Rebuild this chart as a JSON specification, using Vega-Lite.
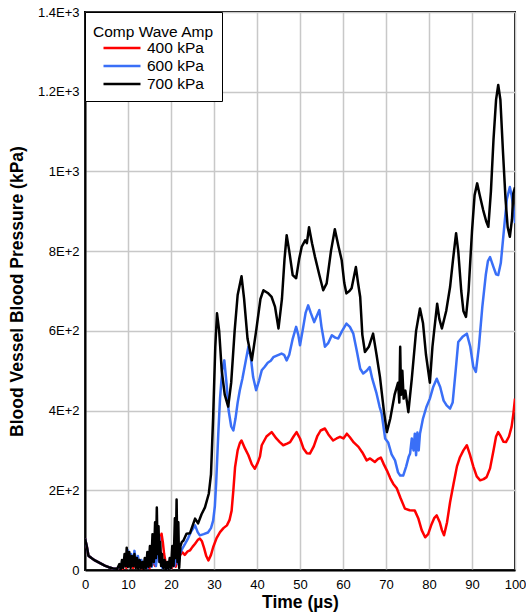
{
  "$schema": "https://vega.github.io/schema/vega-lite/v6.json",
  "width": 430,
  "height": 558,
  "autosize": {"type": "none"},
  "padding": {"left": 85, "top": 12, "right": 11, "bottom": 45},
  "config": {
    "font": "Liberation Sans",
    "view": {"stroke": "#000000", "strokeWidth": 2},
    "axis": {
      "gridColor": "#c8c8c8",
      "gridWidth": 1.5,
      "gridOpacity": 1,
      "ticks": false,
      "domainColor": "#000000",
      "domainWidth": 2,
      "labelColor": "#000000",
      "labelFont": "Liberation Sans",
      "labelFontSize": 13,
      "titleColor": "#000000",
      "titleFont": "Liberation Sans",
      "titleFontSize": 17.5,
      "titleFontWeight": "bold"
    },
    "legend": {
      "labelFont": "Liberation Sans",
      "titleFont": "Liberation Sans"
    }
  },
  "datasets": {
    "pressure": [
      {"t": 0, "v": 79, "s": "400 kPa"}, {"t": 0.4, "v": 60, "s": "400 kPa"}, {"t": 0.8, "v": 36, "s": "400 kPa"}, {"t": 1.5, "v": 30, "s": "400 kPa"}, {"t": 2.3, "v": 24, "s": "400 kPa"}, {"t": 3.5, "v": 17, "s": "400 kPa"}, {"t": 4.6, "v": 11, "s": "400 kPa"}, {"t": 5.5, "v": 7, "s": "400 kPa"}, {"t": 6.5, "v": 4, "s": "400 kPa"}, {"t": 7.5, "v": 3, "s": "400 kPa"}, {"t": 8.2, "v": 8, "s": "400 kPa"}, {"t": 8.7, "v": 3, "s": "400 kPa"}, {"t": 9.2, "v": 20, "s": "400 kPa"}, {"t": 9.6, "v": 5, "s": "400 kPa"}, {"t": 10.0, "v": 45, "s": "400 kPa"}, {"t": 10.4, "v": 10, "s": "400 kPa"}, {"t": 10.8, "v": 30, "s": "400 kPa"}, {"t": 11.2, "v": 5, "s": "400 kPa"}, {"t": 11.7, "v": 25, "s": "400 kPa"}, {"t": 12.2, "v": 5, "s": "400 kPa"}, {"t": 12.8, "v": 15, "s": "400 kPa"}, {"t": 13.4, "v": 3, "s": "400 kPa"}, {"t": 14, "v": 10, "s": "400 kPa"}, {"t": 15, "v": 5, "s": "400 kPa"}, {"t": 15.8, "v": 20, "s": "400 kPa"}, {"t": 16.3, "v": 10, "s": "400 kPa"}, {"t": 16.8, "v": 40, "s": "400 kPa"}, {"t": 17.2, "v": 60, "s": "400 kPa"}, {"t": 17.5, "v": 75, "s": "400 kPa"}, {"t": 17.8, "v": 91, "s": "400 kPa"}, {"t": 18.1, "v": 70, "s": "400 kPa"}, {"t": 18.4, "v": 40, "s": "400 kPa"}, {"t": 18.8, "v": 15, "s": "400 kPa"}, {"t": 19.2, "v": 5, "s": "400 kPa"}, {"t": 19.7, "v": 15, "s": "400 kPa"}, {"t": 20.2, "v": 5, "s": "400 kPa"}, {"t": 20.7, "v": 25, "s": "400 kPa"}, {"t": 21.1, "v": 8, "s": "400 kPa"}, {"t": 21.6, "v": 30, "s": "400 kPa"}, {"t": 22.1, "v": 37, "s": "400 kPa"}, {"t": 22.6, "v": 45, "s": "400 kPa"}, {"t": 23.2, "v": 38, "s": "400 kPa"}, {"t": 23.8, "v": 46, "s": "400 kPa"}, {"t": 24.4, "v": 49, "s": "400 kPa"}, {"t": 25.0, "v": 58, "s": "400 kPa"}, {"t": 25.6, "v": 66, "s": "400 kPa"}, {"t": 26.2, "v": 75, "s": "400 kPa"}, {"t": 26.7, "v": 79, "s": "400 kPa"}, {"t": 27.2, "v": 72, "s": "400 kPa"}, {"t": 27.7, "v": 55, "s": "400 kPa"}, {"t": 28.2, "v": 35, "s": "400 kPa"}, {"t": 28.7, "v": 24, "s": "400 kPa"}, {"t": 29.3, "v": 38, "s": "400 kPa"}, {"t": 29.8, "v": 57, "s": "400 kPa"}, {"t": 30.6, "v": 80, "s": "400 kPa"}, {"t": 31.4, "v": 95, "s": "400 kPa"}, {"t": 32.2, "v": 105, "s": "400 kPa"}, {"t": 33.0, "v": 112, "s": "400 kPa"}, {"t": 33.6, "v": 125, "s": "400 kPa"}, {"t": 34.1, "v": 149, "s": "400 kPa"}, {"t": 34.5, "v": 200, "s": "400 kPa"}, {"t": 34.9, "v": 258, "s": "400 kPa"}, {"t": 35.5, "v": 300, "s": "400 kPa"}, {"t": 36.0, "v": 318, "s": "400 kPa"}, {"t": 36.4, "v": 325, "s": "400 kPa"}, {"t": 37.2, "v": 305, "s": "400 kPa"}, {"t": 38.0, "v": 288, "s": "400 kPa"}, {"t": 38.8, "v": 265, "s": "400 kPa"}, {"t": 39.5, "v": 254, "s": "400 kPa"}, {"t": 40.2, "v": 270, "s": "400 kPa"}, {"t": 40.7, "v": 285, "s": "400 kPa"}, {"t": 41.1, "v": 313, "s": "400 kPa"}, {"t": 42.2, "v": 335, "s": "400 kPa"}, {"t": 43.4, "v": 346, "s": "400 kPa"}, {"t": 44.5, "v": 330, "s": "400 kPa"}, {"t": 45.3, "v": 321, "s": "400 kPa"}, {"t": 46.1, "v": 313, "s": "400 kPa"}, {"t": 47.0, "v": 317, "s": "400 kPa"}, {"t": 47.7, "v": 321, "s": "400 kPa"}, {"t": 48.5, "v": 335, "s": "400 kPa"}, {"t": 49.2, "v": 346, "s": "400 kPa"}, {"t": 50.0, "v": 330, "s": "400 kPa"}, {"t": 50.8, "v": 305, "s": "400 kPa"}, {"t": 51.6, "v": 293, "s": "400 kPa"}, {"t": 52.3, "v": 292, "s": "400 kPa"}, {"t": 53.2, "v": 310, "s": "400 kPa"}, {"t": 54.0, "v": 335, "s": "400 kPa"}, {"t": 54.8, "v": 350, "s": "400 kPa"}, {"t": 55.8, "v": 355, "s": "400 kPa"}, {"t": 56.6, "v": 340, "s": "400 kPa"}, {"t": 57.7, "v": 325, "s": "400 kPa"}, {"t": 58.5, "v": 330, "s": "400 kPa"}, {"t": 59.3, "v": 334, "s": "400 kPa"}, {"t": 60.1, "v": 330, "s": "400 kPa"}, {"t": 60.9, "v": 342, "s": "400 kPa"}, {"t": 61.6, "v": 333, "s": "400 kPa"}, {"t": 62.5, "v": 320, "s": "400 kPa"}, {"t": 63.6, "v": 309, "s": "400 kPa"}, {"t": 64.5, "v": 295, "s": "400 kPa"}, {"t": 65.5, "v": 275, "s": "400 kPa"}, {"t": 66.3, "v": 280, "s": "400 kPa"}, {"t": 67.4, "v": 271, "s": "400 kPa"}, {"t": 68.1, "v": 278, "s": "400 kPa"}, {"t": 68.8, "v": 282, "s": "400 kPa"}, {"t": 69.5, "v": 265, "s": "400 kPa"}, {"t": 70.2, "v": 250, "s": "400 kPa"}, {"t": 71.0, "v": 230, "s": "400 kPa"}, {"t": 71.7, "v": 216, "s": "400 kPa"}, {"t": 72.5, "v": 205, "s": "400 kPa"}, {"t": 73.4, "v": 180, "s": "400 kPa"}, {"t": 74.4, "v": 154, "s": "400 kPa"}, {"t": 75.5, "v": 150, "s": "400 kPa"}, {"t": 76.7, "v": 149, "s": "400 kPa"}, {"t": 77.5, "v": 130, "s": "400 kPa"}, {"t": 78.3, "v": 100, "s": "400 kPa"}, {"t": 79.1, "v": 82, "s": "400 kPa"}, {"t": 79.8, "v": 90, "s": "400 kPa"}, {"t": 80.6, "v": 115, "s": "400 kPa"}, {"t": 81.2, "v": 130, "s": "400 kPa"}, {"t": 81.8, "v": 137, "s": "400 kPa"}, {"t": 82.5, "v": 120, "s": "400 kPa"}, {"t": 83.0, "v": 100, "s": "400 kPa"}, {"t": 83.5, "v": 87, "s": "400 kPa"}, {"t": 84.2, "v": 120, "s": "400 kPa"}, {"t": 84.9, "v": 170, "s": "400 kPa"}, {"t": 85.7, "v": 216, "s": "400 kPa"}, {"t": 86.5, "v": 260, "s": "400 kPa"}, {"t": 87.2, "v": 283, "s": "400 kPa"}, {"t": 88.0, "v": 300, "s": "400 kPa"}, {"t": 88.8, "v": 313, "s": "400 kPa"}, {"t": 89.5, "v": 290, "s": "400 kPa"}, {"t": 90.3, "v": 260, "s": "400 kPa"}, {"t": 91.1, "v": 235, "s": "400 kPa"}, {"t": 91.9, "v": 225, "s": "400 kPa"}, {"t": 92.7, "v": 228, "s": "400 kPa"}, {"t": 93.4, "v": 233, "s": "400 kPa"}, {"t": 94.2, "v": 255, "s": "400 kPa"}, {"t": 95.0, "v": 300, "s": "400 kPa"}, {"t": 95.6, "v": 335, "s": "400 kPa"}, {"t": 96.1, "v": 346, "s": "400 kPa"}, {"t": 96.7, "v": 335, "s": "400 kPa"}, {"t": 97.3, "v": 322, "s": "400 kPa"}, {"t": 97.9, "v": 321, "s": "400 kPa"}, {"t": 98.6, "v": 335, "s": "400 kPa"}, {"t": 99.2, "v": 359, "s": "400 kPa"}, {"t": 99.6, "v": 390, "s": "400 kPa"}, {"t": 100, "v": 430, "s": "400 kPa"},

      {"t": 0, "v": 79, "s": "600 kPa"}, {"t": 0.4, "v": 60, "s": "600 kPa"}, {"t": 0.8, "v": 36, "s": "600 kPa"}, {"t": 1.5, "v": 30, "s": "600 kPa"}, {"t": 2.3, "v": 24, "s": "600 kPa"}, {"t": 3.5, "v": 17, "s": "600 kPa"}, {"t": 4.6, "v": 11, "s": "600 kPa"}, {"t": 5.5, "v": 7, "s": "600 kPa"}, {"t": 6.5, "v": 4, "s": "600 kPa"}, {"t": 7.5, "v": 3, "s": "600 kPa"}, {"t": 8.0, "v": 10, "s": "600 kPa"}, {"t": 8.5, "v": 5, "s": "600 kPa"}, {"t": 9.0, "v": 25, "s": "600 kPa"}, {"t": 9.5, "v": 10, "s": "600 kPa"}, {"t": 9.9, "v": 50, "s": "600 kPa"}, {"t": 10.3, "v": 15, "s": "600 kPa"}, {"t": 10.7, "v": 40, "s": "600 kPa"}, {"t": 11.1, "v": 12, "s": "600 kPa"}, {"t": 11.5, "v": 48, "s": "600 kPa"}, {"t": 11.9, "v": 15, "s": "600 kPa"}, {"t": 12.3, "v": 35, "s": "600 kPa"}, {"t": 12.7, "v": 8, "s": "600 kPa"}, {"t": 13.1, "v": 25, "s": "600 kPa"}, {"t": 13.5, "v": 5, "s": "600 kPa"}, {"t": 14, "v": 15, "s": "600 kPa"}, {"t": 14.5, "v": 5, "s": "600 kPa"}, {"t": 15, "v": 20, "s": "600 kPa"}, {"t": 15.5, "v": 8, "s": "600 kPa"}, {"t": 16, "v": 30, "s": "600 kPa"}, {"t": 16.5, "v": 10, "s": "600 kPa"}, {"t": 17.0, "v": 60, "s": "600 kPa"}, {"t": 17.3, "v": 82, "s": "600 kPa"}, {"t": 17.6, "v": 20, "s": "600 kPa"}, {"t": 18.0, "v": 5, "s": "600 kPa"}, {"t": 18.5, "v": 10, "s": "600 kPa"}, {"t": 19.0, "v": 3, "s": "600 kPa"}, {"t": 19.5, "v": 15, "s": "600 kPa"}, {"t": 20.0, "v": 5, "s": "600 kPa"}, {"t": 20.4, "v": 40, "s": "600 kPa"}, {"t": 20.8, "v": 10, "s": "600 kPa"}, {"t": 21.2, "v": 50, "s": "600 kPa"}, {"t": 21.6, "v": 15, "s": "600 kPa"}, {"t": 22.1, "v": 41, "s": "600 kPa"}, {"t": 22.7, "v": 55, "s": "600 kPa"}, {"t": 23.3, "v": 66, "s": "600 kPa"}, {"t": 24.0, "v": 80, "s": "600 kPa"}, {"t": 24.6, "v": 95, "s": "600 kPa"}, {"t": 25.6, "v": 112, "s": "600 kPa"}, {"t": 26.2, "v": 95, "s": "600 kPa"}, {"t": 26.7, "v": 87, "s": "600 kPa"}, {"t": 27.6, "v": 90, "s": "600 kPa"}, {"t": 28.6, "v": 94, "s": "600 kPa"}, {"t": 29.3, "v": 105, "s": "600 kPa"}, {"t": 29.8, "v": 124, "s": "600 kPa"}, {"t": 30.2, "v": 160, "s": "600 kPa"}, {"t": 30.5, "v": 217, "s": "600 kPa"}, {"t": 31.0, "v": 343, "s": "600 kPa"}, {"t": 31.4, "v": 430, "s": "600 kPa"}, {"t": 31.9, "v": 500, "s": "600 kPa"}, {"t": 32.4, "v": 526, "s": "600 kPa"}, {"t": 32.9, "v": 470, "s": "600 kPa"}, {"t": 33.4, "v": 400, "s": "600 kPa"}, {"t": 34.0, "v": 360, "s": "600 kPa"}, {"t": 34.5, "v": 350, "s": "600 kPa"}, {"t": 35.0, "v": 380, "s": "600 kPa"}, {"t": 35.5, "v": 420, "s": "600 kPa"}, {"t": 36.0, "v": 451, "s": "600 kPa"}, {"t": 36.6, "v": 480, "s": "600 kPa"}, {"t": 37.3, "v": 520, "s": "600 kPa"}, {"t": 38.0, "v": 560, "s": "600 kPa"}, {"t": 38.6, "v": 530, "s": "600 kPa"}, {"t": 39.1, "v": 484, "s": "600 kPa"}, {"t": 39.8, "v": 451, "s": "600 kPa"}, {"t": 40.5, "v": 476, "s": "600 kPa"}, {"t": 41.1, "v": 501, "s": "600 kPa"}, {"t": 41.8, "v": 510, "s": "600 kPa"}, {"t": 42.5, "v": 520, "s": "600 kPa"}, {"t": 43.2, "v": 525, "s": "600 kPa"}, {"t": 43.8, "v": 534, "s": "600 kPa"}, {"t": 44.6, "v": 538, "s": "600 kPa"}, {"t": 45.7, "v": 543, "s": "600 kPa"}, {"t": 46.3, "v": 540, "s": "600 kPa"}, {"t": 46.9, "v": 526, "s": "600 kPa"}, {"t": 47.5, "v": 540, "s": "600 kPa"}, {"t": 48.3, "v": 580, "s": "600 kPa"}, {"t": 49.1, "v": 610, "s": "600 kPa"}, {"t": 49.6, "v": 590, "s": "600 kPa"}, {"t": 50.0, "v": 564, "s": "600 kPa"}, {"t": 50.6, "v": 600, "s": "600 kPa"}, {"t": 51.3, "v": 645, "s": "600 kPa"}, {"t": 51.9, "v": 664, "s": "600 kPa"}, {"t": 52.5, "v": 645, "s": "600 kPa"}, {"t": 53.3, "v": 622, "s": "600 kPa"}, {"t": 54.0, "v": 640, "s": "600 kPa"}, {"t": 54.5, "v": 652, "s": "600 kPa"}, {"t": 55.0, "v": 610, "s": "600 kPa"}, {"t": 55.8, "v": 560, "s": "600 kPa"}, {"t": 56.6, "v": 570, "s": "600 kPa"}, {"t": 57.4, "v": 589, "s": "600 kPa"}, {"t": 58.2, "v": 583, "s": "600 kPa"}, {"t": 58.9, "v": 581, "s": "600 kPa"}, {"t": 59.8, "v": 600, "s": "600 kPa"}, {"t": 60.8, "v": 618, "s": "600 kPa"}, {"t": 61.6, "v": 610, "s": "600 kPa"}, {"t": 62.4, "v": 593, "s": "600 kPa"}, {"t": 63.2, "v": 550, "s": "600 kPa"}, {"t": 64.0, "v": 505, "s": "600 kPa"}, {"t": 64.7, "v": 493, "s": "600 kPa"}, {"t": 65.5, "v": 500, "s": "600 kPa"}, {"t": 66.2, "v": 509, "s": "600 kPa"}, {"t": 66.8, "v": 480, "s": "600 kPa"}, {"t": 67.8, "v": 443, "s": "600 kPa"}, {"t": 68.5, "v": 410, "s": "600 kPa"}, {"t": 69.0, "v": 392, "s": "600 kPa"}, {"t": 69.8, "v": 330, "s": "600 kPa"}, {"t": 70.5, "v": 320, "s": "600 kPa"}, {"t": 71.3, "v": 290, "s": "600 kPa"}, {"t": 72.1, "v": 275, "s": "600 kPa"}, {"t": 72.8, "v": 245, "s": "600 kPa"}, {"t": 73.3, "v": 237, "s": "600 kPa"}, {"t": 74.0, "v": 237, "s": "600 kPa"}, {"t": 74.7, "v": 260, "s": "600 kPa"}, {"t": 75.3, "v": 285, "s": "600 kPa"}, {"t": 75.6, "v": 292, "s": "600 kPa"}, {"t": 76.0, "v": 330, "s": "600 kPa"}, {"t": 76.4, "v": 300, "s": "600 kPa"}, {"t": 76.7, "v": 342, "s": "600 kPa"}, {"t": 77.0, "v": 288, "s": "600 kPa"}, {"t": 77.3, "v": 345, "s": "600 kPa"}, {"t": 77.6, "v": 300, "s": "600 kPa"}, {"t": 77.9, "v": 342, "s": "600 kPa"}, {"t": 78.6, "v": 380, "s": "600 kPa"}, {"t": 79.4, "v": 409, "s": "600 kPa"}, {"t": 80.2, "v": 430, "s": "600 kPa"}, {"t": 81.0, "v": 460, "s": "600 kPa"}, {"t": 81.8, "v": 480, "s": "600 kPa"}, {"t": 82.6, "v": 459, "s": "600 kPa"}, {"t": 83.4, "v": 425, "s": "600 kPa"}, {"t": 84.1, "v": 413, "s": "600 kPa"}, {"t": 84.9, "v": 405, "s": "600 kPa"}, {"t": 85.5, "v": 420, "s": "600 kPa"}, {"t": 86.2, "v": 500, "s": "600 kPa"}, {"t": 86.8, "v": 572, "s": "600 kPa"}, {"t": 87.8, "v": 585, "s": "600 kPa"}, {"t": 88.8, "v": 593, "s": "600 kPa"}, {"t": 89.6, "v": 560, "s": "600 kPa"}, {"t": 90.3, "v": 510, "s": "600 kPa"}, {"t": 90.9, "v": 497, "s": "600 kPa"}, {"t": 91.6, "v": 560, "s": "600 kPa"}, {"t": 92.4, "v": 660, "s": "600 kPa"}, {"t": 93.2, "v": 740, "s": "600 kPa"}, {"t": 93.7, "v": 775, "s": "600 kPa"}, {"t": 94.2, "v": 785, "s": "600 kPa"}, {"t": 95.0, "v": 760, "s": "600 kPa"}, {"t": 95.6, "v": 742, "s": "600 kPa"}, {"t": 96.1, "v": 740, "s": "600 kPa"}, {"t": 96.7, "v": 770, "s": "600 kPa"}, {"t": 97.4, "v": 850, "s": "600 kPa"}, {"t": 98.1, "v": 930, "s": "600 kPa"}, {"t": 98.8, "v": 961, "s": "600 kPa"}, {"t": 99.2, "v": 940, "s": "600 kPa"}, {"t": 99.6, "v": 911, "s": "600 kPa"}, {"t": 100, "v": 870, "s": "600 kPa"},

      {"t": 0, "v": 79, "s": "700 kPa"}, {"t": 0.4, "v": 60, "s": "700 kPa"}, {"t": 0.8, "v": 36, "s": "700 kPa"}, {"t": 1.5, "v": 30, "s": "700 kPa"}, {"t": 2.3, "v": 24, "s": "700 kPa"}, {"t": 3.5, "v": 17, "s": "700 kPa"}, {"t": 4.6, "v": 11, "s": "700 kPa"}, {"t": 5.5, "v": 7, "s": "700 kPa"}, {"t": 6.5, "v": 4, "s": "700 kPa"}, {"t": 7.5, "v": 3, "s": "700 kPa"}, {"t": 8.0, "v": 15, "s": "700 kPa"}, {"t": 8.3, "v": 2, "s": "700 kPa"}, {"t": 8.6, "v": 25, "s": "700 kPa"}, {"t": 8.9, "v": 5, "s": "700 kPa"}, {"t": 9.2, "v": 40, "s": "700 kPa"}, {"t": 9.5, "v": 10, "s": "700 kPa"}, {"t": 9.7, "v": 56, "s": "700 kPa"}, {"t": 10.0, "v": 8, "s": "700 kPa"}, {"t": 10.3, "v": 45, "s": "700 kPa"}, {"t": 10.6, "v": 5, "s": "700 kPa"}, {"t": 10.9, "v": 35, "s": "700 kPa"}, {"t": 11.2, "v": 10, "s": "700 kPa"}, {"t": 11.5, "v": 40, "s": "700 kPa"}, {"t": 11.8, "v": 5, "s": "700 kPa"}, {"t": 12.1, "v": 30, "s": "700 kPa"}, {"t": 12.4, "v": 3, "s": "700 kPa"}, {"t": 12.7, "v": 25, "s": "700 kPa"}, {"t": 13.0, "v": 5, "s": "700 kPa"}, {"t": 13.3, "v": 20, "s": "700 kPa"}, {"t": 13.6, "v": 2, "s": "700 kPa"}, {"t": 13.9, "v": 30, "s": "700 kPa"}, {"t": 14.2, "v": 5, "s": "700 kPa"}, {"t": 14.5, "v": 45, "s": "700 kPa"}, {"t": 14.8, "v": 8, "s": "700 kPa"}, {"t": 15.1, "v": 60, "s": "700 kPa"}, {"t": 15.4, "v": 10, "s": "700 kPa"}, {"t": 15.7, "v": 90, "s": "700 kPa"}, {"t": 16.0, "v": 20, "s": "700 kPa"}, {"t": 16.3, "v": 120, "s": "700 kPa"}, {"t": 16.5, "v": 30, "s": "700 kPa"}, {"t": 16.7, "v": 157, "s": "700 kPa"}, {"t": 16.9, "v": 40, "s": "700 kPa"}, {"t": 17.1, "v": 110, "s": "700 kPa"}, {"t": 17.3, "v": 20, "s": "700 kPa"}, {"t": 17.5, "v": 70, "s": "700 kPa"}, {"t": 17.7, "v": 10, "s": "700 kPa"}, {"t": 17.9, "v": 40, "s": "700 kPa"}, {"t": 18.2, "v": 5, "s": "700 kPa"}, {"t": 18.5, "v": 25, "s": "700 kPa"}, {"t": 18.8, "v": 2, "s": "700 kPa"}, {"t": 19.1, "v": 20, "s": "700 kPa"}, {"t": 19.4, "v": 3, "s": "700 kPa"}, {"t": 19.7, "v": 30, "s": "700 kPa"}, {"t": 20.0, "v": 5, "s": "700 kPa"}, {"t": 20.3, "v": 60, "s": "700 kPa"}, {"t": 20.6, "v": 10, "s": "700 kPa"}, {"t": 20.9, "v": 130, "s": "700 kPa"}, {"t": 21.1, "v": 30, "s": "700 kPa"}, {"t": 21.3, "v": 177, "s": "700 kPa"}, {"t": 21.5, "v": 20, "s": "700 kPa"}, {"t": 21.7, "v": 120, "s": "700 kPa"}, {"t": 21.9, "v": 5, "s": "700 kPa"}, {"t": 22.2, "v": 60, "s": "700 kPa"}, {"t": 22.5, "v": 70, "s": "700 kPa"}, {"t": 22.9, "v": 74, "s": "700 kPa"}, {"t": 23.6, "v": 91, "s": "700 kPa"}, {"t": 24.4, "v": 92, "s": "700 kPa"}, {"t": 25.6, "v": 129, "s": "700 kPa"}, {"t": 26.3, "v": 117, "s": "700 kPa"}, {"t": 27.1, "v": 140, "s": "700 kPa"}, {"t": 27.9, "v": 157, "s": "700 kPa"}, {"t": 28.8, "v": 192, "s": "700 kPa"}, {"t": 29.3, "v": 240, "s": "700 kPa"}, {"t": 29.8, "v": 383, "s": "700 kPa"}, {"t": 30.3, "v": 560, "s": "700 kPa"}, {"t": 30.7, "v": 644, "s": "700 kPa"}, {"t": 31.2, "v": 600, "s": "700 kPa"}, {"t": 31.8, "v": 500, "s": "700 kPa"}, {"t": 32.5, "v": 440, "s": "700 kPa"}, {"t": 33.3, "v": 410, "s": "700 kPa"}, {"t": 34.0, "v": 470, "s": "700 kPa"}, {"t": 34.8, "v": 600, "s": "700 kPa"}, {"t": 35.5, "v": 690, "s": "700 kPa"}, {"t": 36.4, "v": 737, "s": "700 kPa"}, {"t": 37.0, "v": 680, "s": "700 kPa"}, {"t": 37.8, "v": 580, "s": "700 kPa"}, {"t": 38.8, "v": 526, "s": "700 kPa"}, {"t": 39.8, "v": 600, "s": "700 kPa"}, {"t": 40.8, "v": 680, "s": "700 kPa"}, {"t": 41.5, "v": 702, "s": "700 kPa"}, {"t": 42.5, "v": 695, "s": "700 kPa"}, {"t": 43.4, "v": 685, "s": "700 kPa"}, {"t": 44.2, "v": 660, "s": "700 kPa"}, {"t": 45.0, "v": 606, "s": "700 kPa"}, {"t": 45.8, "v": 680, "s": "700 kPa"}, {"t": 46.4, "v": 780, "s": "700 kPa"}, {"t": 46.9, "v": 840, "s": "700 kPa"}, {"t": 47.5, "v": 800, "s": "700 kPa"}, {"t": 48.3, "v": 740, "s": "700 kPa"}, {"t": 49.1, "v": 732, "s": "700 kPa"}, {"t": 49.8, "v": 780, "s": "700 kPa"}, {"t": 50.4, "v": 811, "s": "700 kPa"}, {"t": 51.2, "v": 827, "s": "700 kPa"}, {"t": 51.6, "v": 820, "s": "700 kPa"}, {"t": 52.1, "v": 860, "s": "700 kPa"}, {"t": 52.8, "v": 820, "s": "700 kPa"}, {"t": 53.5, "v": 785, "s": "700 kPa"}, {"t": 54.5, "v": 740, "s": "700 kPa"}, {"t": 55.4, "v": 702, "s": "700 kPa"}, {"t": 56.2, "v": 719, "s": "700 kPa"}, {"t": 57.2, "v": 800, "s": "700 kPa"}, {"t": 58.1, "v": 855, "s": "700 kPa"}, {"t": 59.0, "v": 810, "s": "700 kPa"}, {"t": 59.7, "v": 777, "s": "700 kPa"}, {"t": 60.3, "v": 720, "s": "700 kPa"}, {"t": 60.8, "v": 694, "s": "700 kPa"}, {"t": 61.5, "v": 700, "s": "700 kPa"}, {"t": 62.0, "v": 707, "s": "700 kPa"}, {"t": 63.0, "v": 760, "s": "700 kPa"}, {"t": 63.5, "v": 720, "s": "700 kPa"}, {"t": 64.0, "v": 685, "s": "700 kPa"}, {"t": 64.5, "v": 590, "s": "700 kPa"}, {"t": 65.1, "v": 547, "s": "700 kPa"}, {"t": 66.0, "v": 560, "s": "700 kPa"}, {"t": 67.0, "v": 593, "s": "700 kPa"}, {"t": 67.8, "v": 540, "s": "700 kPa"}, {"t": 68.6, "v": 484, "s": "700 kPa"}, {"t": 69.5, "v": 400, "s": "700 kPa"}, {"t": 70.2, "v": 346, "s": "700 kPa"}, {"t": 71.0, "v": 380, "s": "700 kPa"}, {"t": 72.0, "v": 440, "s": "700 kPa"}, {"t": 72.8, "v": 470, "s": "700 kPa"}, {"t": 73.1, "v": 420, "s": "700 kPa"}, {"t": 73.3, "v": 560, "s": "700 kPa"}, {"t": 73.5, "v": 440, "s": "700 kPa"}, {"t": 73.8, "v": 500, "s": "700 kPa"}, {"t": 74.1, "v": 430, "s": "700 kPa"}, {"t": 74.5, "v": 450, "s": "700 kPa"}, {"t": 75.2, "v": 396, "s": "700 kPa"}, {"t": 76.0, "v": 480, "s": "700 kPa"}, {"t": 77.0, "v": 600, "s": "700 kPa"}, {"t": 77.9, "v": 656, "s": "700 kPa"}, {"t": 78.6, "v": 620, "s": "700 kPa"}, {"t": 79.3, "v": 540, "s": "700 kPa"}, {"t": 80.2, "v": 470, "s": "700 kPa"}, {"t": 80.8, "v": 560, "s": "700 kPa"}, {"t": 81.2, "v": 600, "s": "700 kPa"}, {"t": 81.9, "v": 668, "s": "700 kPa"}, {"t": 82.4, "v": 630, "s": "700 kPa"}, {"t": 83.0, "v": 606, "s": "700 kPa"}, {"t": 84.0, "v": 650, "s": "700 kPa"}, {"t": 84.9, "v": 710, "s": "700 kPa"}, {"t": 85.6, "v": 780, "s": "700 kPa"}, {"t": 86.3, "v": 845, "s": "700 kPa"}, {"t": 86.8, "v": 800, "s": "700 kPa"}, {"t": 87.5, "v": 700, "s": "700 kPa"}, {"t": 88.0, "v": 650, "s": "700 kPa"}, {"t": 88.6, "v": 635, "s": "700 kPa"}, {"t": 89.2, "v": 700, "s": "700 kPa"}, {"t": 90.0, "v": 850, "s": "700 kPa"}, {"t": 90.6, "v": 940, "s": "700 kPa"}, {"t": 91.2, "v": 970, "s": "700 kPa"}, {"t": 91.8, "v": 940, "s": "700 kPa"}, {"t": 92.6, "v": 903, "s": "700 kPa"}, {"t": 93.3, "v": 875, "s": "700 kPa"}, {"t": 93.8, "v": 861, "s": "700 kPa"}, {"t": 94.4, "v": 950, "s": "700 kPa"}, {"t": 95.0, "v": 1080, "s": "700 kPa"}, {"t": 95.6, "v": 1180, "s": "700 kPa"}, {"t": 96.1, "v": 1217, "s": "700 kPa"}, {"t": 96.6, "v": 1180, "s": "700 kPa"}, {"t": 97.2, "v": 1050, "s": "700 kPa"}, {"t": 97.8, "v": 930, "s": "700 kPa"}, {"t": 98.3, "v": 860, "s": "700 kPa"}, {"t": 98.8, "v": 836, "s": "700 kPa"}, {"t": 99.3, "v": 880, "s": "700 kPa"}, {"t": 99.6, "v": 945, "s": "700 kPa"}, {"t": 100, "v": 960, "s": "700 kPa"}
    ]
  },
  "data": {"name": "pressure"},
  "mark": {"type": "line", "strokeWidth": 2.5, "clip": true, "strokeJoin": "round"},
  "encoding": {
    "x": {
      "field": "t",
      "type": "quantitative",
      "scale": {"domain": [0, 100], "nice": false},
      "axis": {
        "title": "Time (µs)",
        "values": [0, 10, 20, 30, 40, 50, 60, 70, 80, 90, 100],
        "labelPadding": 8,
        "titlePadding": 2,
        "labelFlush": false
      }
    },
    "y": {
      "field": "v",
      "type": "quantitative",
      "scale": {"domain": [0, 1400], "nice": false},
      "axis": {
        "title": "Blood Vessel Blood Pressure (kPa)",
        "values": [0, 200, 400, 600, 800, 1000, 1200, 1400],
        "labelExpr": "datum.value == 0 ? '0' : datum.value == 200 ? '2E+2' : datum.value == 400 ? '4E+2' : datum.value == 600 ? '6E+2' : datum.value == 800 ? '8E+2' : datum.value == 1000 ? '1E+3' : datum.value == 1200 ? '1.2E+3' : '1.4E+3'",
        "labelPadding": 6,
        "titlePadding": 11,
        "labelFlush": false
      }
    },
    "color": {
      "field": "s",
      "type": "nominal",
      "scale": {
        "domain": ["400 kPa", "600 kPa", "700 kPa"],
        "range": ["#ff0000", "#3a6ff7", "#000000"]
      },
      "legend": {
        "title": "Comp Wave Amp",
        "orient": "top-left",
        "offset": 0,
        "fillColor": "#ffffff",
        "strokeColor": "#000000",
        "padding": 8,
        "titleFontSize": 15.5,
        "titleFontWeight": "normal",
        "titleColor": "#000000",
        "titleBaseline": "line-top",
        "titleLineHeight": 25,
        "titlePadding": 3.5,
        "labelFontSize": 15.5,
        "labelColor": "#000000",
        "labelOffset": 16,
        "symbolType": "M-2.5,0L2.5,0",
        "symbolSize": 219,
        "symbolStrokeWidth": 2.5,
        "symbolOffset": 20,
        "rowPadding": -3.5
      }
    }
  }
}
